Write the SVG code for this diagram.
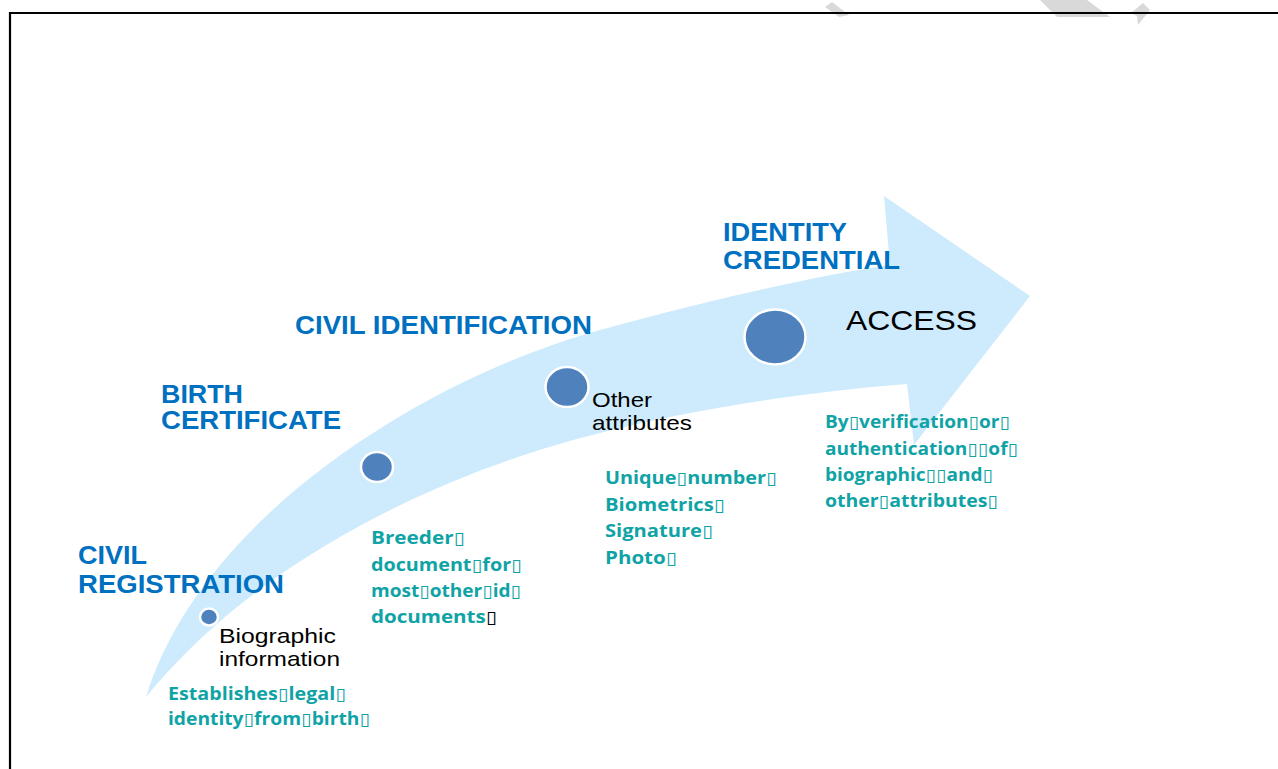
<svg xmlns="http://www.w3.org/2000/svg" width="1278" height="769" viewBox="0 0 1278 769">
<style>
.t{font-family:"Liberation Sans",Arial,sans-serif;font-weight:bold;fill:#0070c0;font-size:25.5px}
.b{font-family:"Liberation Sans",Arial,sans-serif;fill:#000;font-size:21px}
.a{font-family:"Liberation Sans",Arial,sans-serif;fill:#000;font-size:28px}
.g{font-family:"Open Sans","DejaVu Sans",sans-serif;font-weight:bold;fill:#0fa3a6;font-size:17.5px}
.dot{fill:#4f81bd;stroke:#fff;stroke-width:2.5}
.wm{fill:#d9d9d9}
</style>
<rect width="1278" height="769" fill="#fff"/>
<g id="watermark">
<polygon class="wm" points="825,7 832,2 849,15 839,17"/>
<polygon class="wm" points="1040,0 1087,0 1110,17 1057,17"/>
<polygon class="wm" points="1131,13 1143,3 1150,10 1138,25 1137,16"/>
</g>
<g id="page-border" stroke="#000" stroke-width="2.2" fill="none">
<line x1="9" y1="13" x2="1278" y2="13"/>
<line x1="10" y1="12" x2="10" y2="769"/>
</g>
<g id="connectors">
<path fill="#cdebfc" d="M146,697 C200,520 420,380 600,330 C680,308 800,278 890,265 L884,196 L1030,296 L914,445 L907,384 C800,392 680,412 600,433 C470,465 270,545 146,697 Z"/>
</g>
<g id="node-civil-registration">
<text class="t" x="78" y="564" textLength="69" lengthAdjust="spacingAndGlyphs">CIVIL</text>
<text class="t" x="78" y="593" textLength="206" lengthAdjust="spacingAndGlyphs">REGISTRATION</text>
<ellipse class="dot" cx="209" cy="617" rx="9" ry="8.5"/>
<text class="b" x="219" y="643" textLength="117" lengthAdjust="spacingAndGlyphs">Biographic</text>
<text class="b" x="219" y="666" textLength="121" lengthAdjust="spacingAndGlyphs">information</text>
<text class="g" x="168" y="700" textLength="178" lengthAdjust="spacingAndGlyphs">Establishes▯legal▯</text>
<text class="g" x="168" y="725" textLength="202" lengthAdjust="spacingAndGlyphs">identity▯from▯birth▯</text>
</g>
<g id="node-birth-certificate">
<text class="t" x="161" y="403" textLength="82" lengthAdjust="spacingAndGlyphs">BIRTH</text>
<text class="t" x="161" y="429" textLength="180" lengthAdjust="spacingAndGlyphs">CERTIFICATE</text>
<ellipse class="dot" cx="377" cy="467" rx="16" ry="15"/>
<text class="g" x="371" y="544" textLength="94" lengthAdjust="spacingAndGlyphs">Breeder▯</text>
<text class="g" x="371" y="571" textLength="151" lengthAdjust="spacingAndGlyphs">document▯for▯</text>
<text class="g" x="371" y="597" textLength="150" lengthAdjust="spacingAndGlyphs">most▯other▯id▯</text>
<text class="g" x="371" y="623" textLength="126" lengthAdjust="spacingAndGlyphs">documents<tspan fill="#000">▯</tspan></text>
</g>
<g id="node-civil-identification">
<text class="t" x="295" y="334" textLength="297" lengthAdjust="spacingAndGlyphs">CIVIL IDENTIFICATION</text>
<ellipse class="dot" cx="567" cy="387" rx="21.5" ry="20"/>
<text class="b" x="592" y="407" textLength="60" lengthAdjust="spacingAndGlyphs">Other</text>
<text class="b" x="592" y="430" textLength="100" lengthAdjust="spacingAndGlyphs">attributes</text>
<text class="g" x="605" y="484" textLength="172" lengthAdjust="spacingAndGlyphs">Unique▯number▯</text>
<text class="g" x="605" y="511" textLength="120" lengthAdjust="spacingAndGlyphs">Biometrics▯</text>
<text class="g" x="605" y="537" textLength="108" lengthAdjust="spacingAndGlyphs">Signature▯</text>
<text class="g" x="605" y="564" textLength="72" lengthAdjust="spacingAndGlyphs">Photo▯</text>
</g>
<g id="node-identity-credential">
<text class="t" x="723" y="241" textLength="124" lengthAdjust="spacingAndGlyphs">IDENTITY</text>
<text class="t" x="723" y="269" textLength="177" lengthAdjust="spacingAndGlyphs">CREDENTIAL</text>
<ellipse class="dot" cx="775" cy="337" rx="30.5" ry="27.5"/>
<text class="a" x="846" y="330" textLength="131" lengthAdjust="spacingAndGlyphs">ACCESS</text>
<text class="g" x="825" y="428" textLength="185" lengthAdjust="spacingAndGlyphs">By▯verification▯or▯</text>
<text class="g" x="825" y="455" textLength="193" lengthAdjust="spacingAndGlyphs">authentication▯▯of▯</text>
<text class="g" x="825" y="481" textLength="168" lengthAdjust="spacingAndGlyphs">biographic▯▯and▯</text>
<text class="g" x="825" y="507" textLength="173" lengthAdjust="spacingAndGlyphs">other▯attributes▯</text>
</g>
</svg>
